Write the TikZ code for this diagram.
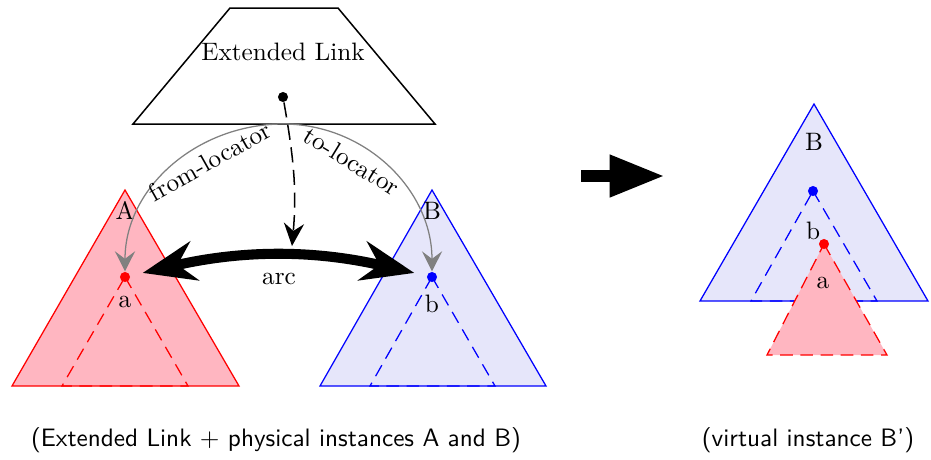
\documentclass[tikz,border=0pt]{standalone}
\usetikzlibrary{arrows.meta, positioning, calc}
\definecolor{instred}{RGB}{255,182,193}
\definecolor{instblue}{RGB}{230,230,250}
\begin{document}
\begin{tikzpicture}[x=0.1394mm, y=-0.1394mm, >=Stealth, tree/.style={line width=0.5pt}, subtree/.style={line width=0.5pt, dash pattern=on 5pt off 3pt}, dot/.style={circle, fill, inner sep=0pt, minimum size=4pt}, tag/.style={anchor=base}, locator/.style={-{Stealth[length=8pt, width=8pt, inset=3pt]}, gray, line width=0.5pt}, loclabel/.style={pos=0.35, sloped, below, text=black}, pointer/.style={-{Stealth[length=9pt, width=8pt, inset=3pt]}, line width=0.6pt, dash pattern=on 6pt off 3pt}, arcflow/.style={<->, line width=4pt, shorten <=5pt, shorten >=5pt}, caption/.style={anchor=base, font=\sffamily}]
\useasboundingbox (0,0) rectangle (931,459);
% extended link
\draw[line width=0.6pt] (230,8) -- (338,8) -- (435,124) -- (133,124) -- cycle;
\node (Link) at (283,52) {Extended Link};
\node[dot] (ldot) at (283,97) {};
\coordinate (linkbot) at (283,124);
% physical instance A
\draw[tree, red, fill=instred] (125,190) -- (239,386) -- (12,386) -- cycle;
\node[dot, red] (a) at (125,277) {};
\draw[subtree, red] (a.center) -- (188,386) -- (62,386) -- cycle;
\node[tag] (Alab) at (125,219) {A};
\node[tag] (alab) at (125,307) {a};
% physical instance B
\draw[tree, blue, fill=instblue] (432,190) -- (546,386) -- (320,386) -- cycle;
\node[dot, blue] (b) at (432,277) {};
\draw[subtree, blue] (b.center) -- (495,386) -- (370,386) -- cycle;
\node[tag] (Blab) at (432,219) {B};
\node[tag] (blab) at (432,312) {b};
% locators and arc
\draw[locator] (linkbot) to[out=180, in=90] node[loclabel] {from-locator} (a);
\draw[locator] (linkbot) to[out=0, in=90] node[loclabel] {to-locator} (b);
\draw[arcflow] (a) to[bend left=13] (b);
\node[tag] (arclab) at (279,284) {arc};
\coordinate (arctop) at (292,246);
\draw[pointer] (ldot) to[out=-80, in=85] (arctop);
% step to the virtual instance
\coordinate (go) at (581,176);
\coordinate (gone) at (665,176);
\draw[-{Triangle[length=22pt, width=15.6pt]}, line width=4.9pt] (go) -- (gone);
% virtual instance B'
\draw[tree, blue, fill=instblue] (814,104) -- (928,301) -- (700,301) -- cycle;
\node[dot, blue] (b2) at (813,191) {};
\draw[subtree, blue] (b2.center) -- (877,301) -- (751,301) -- cycle;
\node[tag] (B2lab) at (814,150) {B};
\node[tag] (b2lab) at (813,239) {b};
\draw[subtree, red, fill=instred] (824,244) -- (887,355) -- (767,355) -- cycle;
\node[dot, red] (a2) at (824,244) {};
\node[tag] (a2lab) at (823,288) {a};
% captions
\node[caption] (leftcap) at (276,446) {(Extended Link $+$ physical instances A and B)};
\node[caption] (rightcap) at (808,446) {(virtual instance B')};
\end{tikzpicture}
\end{document}
